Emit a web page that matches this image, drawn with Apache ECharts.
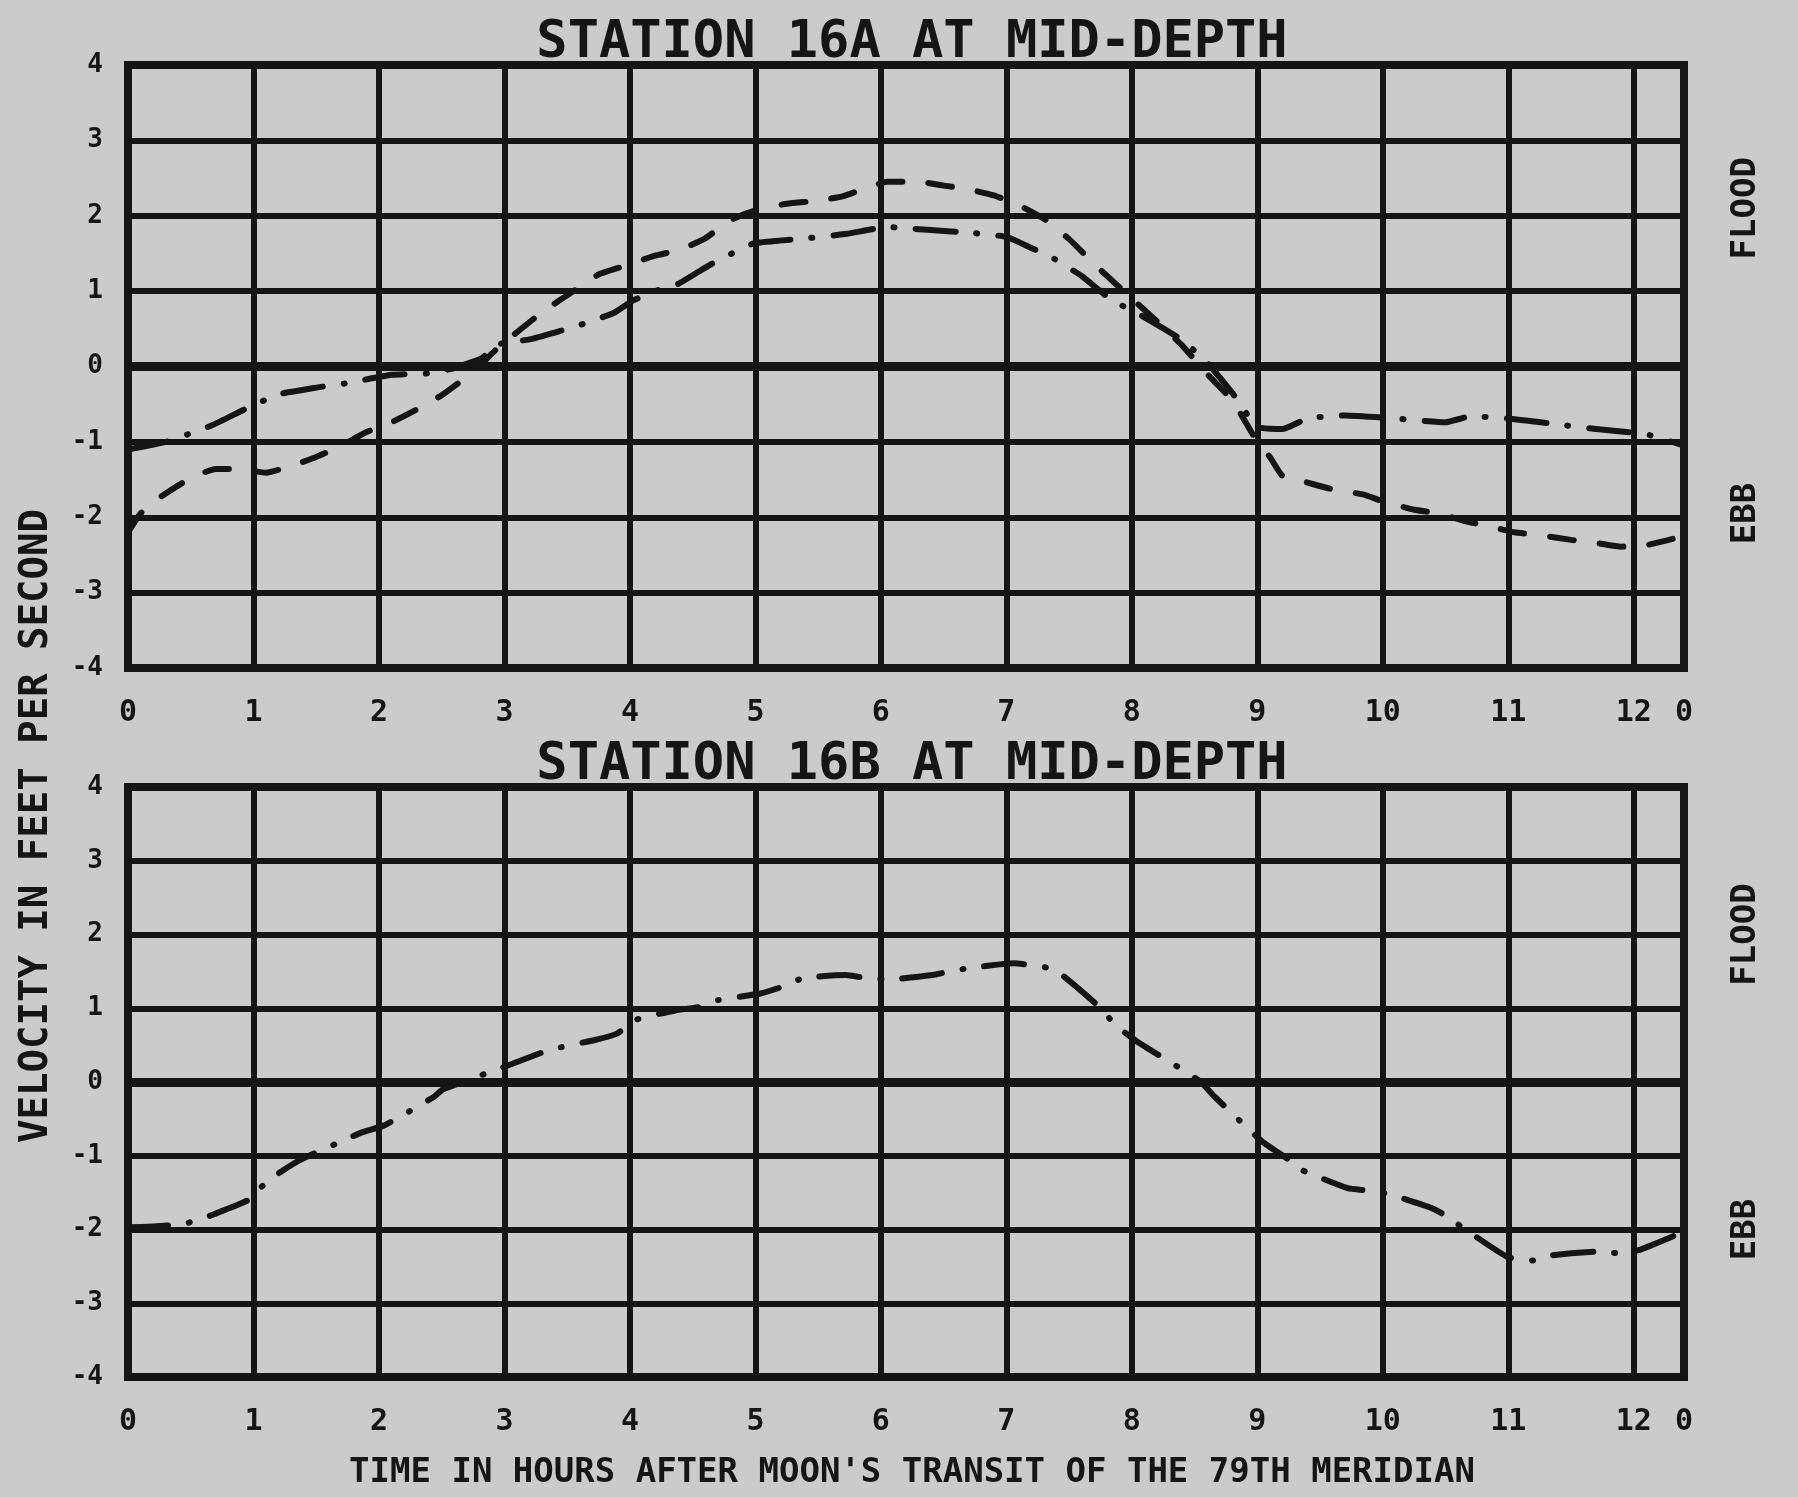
<!DOCTYPE html>
<html><head><meta charset="utf-8">
<script src="https://cdn.jsdelivr.net/npm/echarts@6/dist/echarts.min.js"></script>
<style>html,body{margin:0;padding:0;background:#cacbcd;}#c{width:1798px;height:1497px;}</style>
</head><body><div id="c"></div><script>
// ---- data (hours after moon's transit, velocity ft/s) ----
const topDashHours = [0,0.1,0.25,0.5,0.7,0.9,1.1,1.3,1.5,1.7,1.9,2.1,2.3,2.5,2.75,2.95,3.3,3.55,3.75,3.95,4.2,4.4,4.6,4.8,5.0,5.25,5.5,5.7,5.9,6.05,6.3,6.5,6.7,6.9,7.1,7.3,7.5,7.7,8.0,8.2,8.4,8.6,8.8,9.0,9.1,9.2,9.4,9.6,9.85,10.0,10.25,10.45,10.65,10.85,11.05,11.3,11.5,11.7,11.9,12.1,12.4];
const topDashVel = [-2.2,-1.95,-1.74,-1.48,-1.36,-1.36,-1.41,-1.32,-1.2,-1.05,-0.87,-0.74,-0.57,-0.38,-0.07,0.25,0.72,1.0,1.22,1.33,1.47,1.55,1.7,1.94,2.07,2.16,2.2,2.26,2.38,2.45,2.45,2.4,2.35,2.27,2.14,1.96,1.69,1.36,0.9,0.6,0.28,-0.1,-0.45,-1.0,-1.2,-1.45,-1.54,-1.63,-1.7,-1.79,-1.9,-1.95,-2.05,-2.12,-2.2,-2.25,-2.3,-2.34,-2.39,-2.37,-2.25];
const topDashDotHours = [0,0.3,0.67,0.94,1.2,1.5,1.75,2.1,2.4,2.6,2.82,2.94,3.2,3.4,3.6,3.87,4.03,4.2,4.39,4.52,4.65,4.98,5.19,5.4,5.73,6.05,6.4,6.67,7.0,7.19,7.36,7.6,7.84,8.05,8.4,8.6,8.8,9.0,9.2,9.4,9.7,10.1,10.5,10.7,11.0,11.4,11.7,12.1,12.4];
const topDashDotVel = [-1.1,-1.0,-0.78,-0.56,-0.37,-0.28,-0.22,-0.11,-0.09,-0.02,0.11,0.29,0.36,0.45,0.55,0.71,0.88,1.0,1.1,1.23,1.36,1.63,1.67,1.7,1.76,1.85,1.81,1.78,1.72,1.58,1.45,1.2,0.88,0.7,0.35,0.05,-0.35,-0.8,-0.83,-0.69,-0.65,-0.69,-0.74,-0.66,-0.69,-0.77,-0.83,-0.9,-1.05];
const bottomHours = [0,0.2,0.43,0.54,0.69,0.96,1.05,1.2,1.37,1.72,1.87,2.04,2.43,2.51,2.99,3.22,3.37,3.72,3.9,4.04,4.36,4.56,4.7,5.04,5.23,5.38,5.72,5.88,6.06,6.41,6.55,6.72,7.06,7.22,7.39,7.74,7.87,8.04,8.39,8.55,8.66,9.04,9.24,9.35,9.72,9.87,10.03,10.39,10.54,10.59,10.99,11.2,11.35,11.72,11.87,12.04,12.4];
const bottomVel = [-1.97,-1.96,-1.93,-1.88,-1.79,-1.6,-1.44,-1.24,-1.06,-0.79,-0.68,-0.59,-0.21,-0.1,0.2,0.35,0.44,0.57,0.66,0.84,0.97,1.02,1.11,1.2,1.3,1.41,1.45,1.41,1.39,1.45,1.5,1.55,1.61,1.58,1.52,1.02,0.77,0.55,0.18,0.0,-0.2,-0.81,-1.04,-1.19,-1.44,-1.47,-1.51,-1.71,-1.85,-1.92,-2.37,-2.42,-2.35,-2.3,-2.32,-2.28,-2.03];
const titles = ['STATION 16A AT MID-DEPTH', 'STATION 16B AT MID-DEPTH'];
const xAxisName = "TIME IN HOURS AFTER MOON'S TRANSIT OF THE 79TH MERIDIAN";
const yAxisName = 'VELOCITY IN FEET PER SECOND';
const floodLabel = 'FLOOD', ebbLabel = 'EBB';
const xMax = 12.4, xEndLabel = '0';

// ---- styling ----
const INK = '#151515';
const MONO = '"DejaVu Sans Mono", "Liberation Mono", monospace';
const pairs = (xs, ys) => xs.map((x, i) => [x, ys[i]]);
const DASH = [24, 26];
const DASHDOT = [40, 21, 1, 21];

const grids = [
  {left: 128, top: 65, width: 1556, height: 603},
  {left: 128, top: 787, width: 1556, height: 590}
];

function xAxisFor(i) {
  return {
    type: 'value', gridIndex: i, min: 0, max: xMax, interval: 1,
    axisLine: {show: false}, axisTick: {show: false},
    splitLine: {show: true, showMinLine: true, showMaxLine: true, lineStyle: {color: INK, width: 6}},
    axisLabel: {
      margin: 30, color: INK, fontFamily: MONO, fontWeight: 'bold', fontSize: 30,
      showMinLabel: true, showMaxLabel: true, hideOverlap: false,
      formatter: v => (v > 12.2 ? xEndLabel : String(Math.round(v)))
    }
  };
}
function yAxisFor(i) {
  return {
    type: 'value', gridIndex: i, min: -4, max: 4, interval: 1,
    axisLine: {show: false}, axisTick: {show: false},
    splitLine: {show: true, lineStyle: {color: INK, width: 6}},
    axisLabel: {margin: 25, color: INK, fontFamily: MONO, fontWeight: 'bold', fontSize: 26}
  };
}
function lineSeries(xi, data, dash, zero) {
  const s = {
    type: 'line', xAxisIndex: xi, yAxisIndex: xi, data: data,
    showSymbol: false, symbol: 'none', smooth: 0.15, silent: true,
    lineStyle: {color: INK, width: 6, type: dash, cap: 'round', join: 'round'},
    z: 5
  };
  if (zero) {
    s.markLine = {silent: true, symbol: 'none', label: {show: false},
      lineStyle: {color: INK, width: 9, type: 'solid'}, data: [{yAxis: 0}], z: 3};
  }
  return s;
}

const chart = echarts.init(document.getElementById('c'), null, {renderer: 'canvas'});
chart.setOption({
  backgroundColor: '#cacbcd',
  animation: false,
  grid: grids.map(g => Object.assign({show: true, borderColor: INK, borderWidth: 8,
    backgroundColor: 'transparent', containLabel: false, outerBoundsMode: 'none'}, g)),
  xAxis: [xAxisFor(0), xAxisFor(1)],
  yAxis: [yAxisFor(0), yAxisFor(1)],
  series: [
    lineSeries(0, pairs(topDashHours, topDashVel), DASH, true),
    lineSeries(0, pairs(topDashDotHours, topDashDotVel), DASHDOT, false),
    lineSeries(1, pairs(bottomHours, bottomVel), DASHDOT, true)
  ]
});

// ---- text annotations positioned from the axes ----
function txt(text, x, y, size, rot) {
  return {type: 'text', x: x, y: y, rotation: rot || 0, silent: true, z: 10,
    style: {text: text, fill: INK, font: 'bold ' + size + 'px ' + MONO, align: 'center', verticalAlign: 'middle'}};
}
const gTop = grids[0], gBot = grids[1];
const cx = gTop.left + gTop.width / 2 + 6;
const rightX = chart.convertToPixel({xAxisIndex: 0}, xMax) + 62;
const g = [
  txt(titles[0], cx, gTop.top - 22, 52),
  txt(titles[1], cx, gBot.top - 22, 52),
  txt(xAxisName, cx, 1473, 34),
  txt(yAxisName, 37, 826, 39, Math.PI / 2),
  txt(floodLabel, rightX, chart.convertToPixel({yAxisIndex: 0}, 2.1), 34, Math.PI / 2),
  txt(ebbLabel, rightX, chart.convertToPixel({yAxisIndex: 0}, -1.95), 34, Math.PI / 2),
  txt(floodLabel, rightX, chart.convertToPixel({yAxisIndex: 1}, 2), 34, Math.PI / 2),
  txt(ebbLabel, rightX, chart.convertToPixel({yAxisIndex: 1}, -2), 34, Math.PI / 2)
];
chart.setOption({graphic: g});
</script></body></html>
